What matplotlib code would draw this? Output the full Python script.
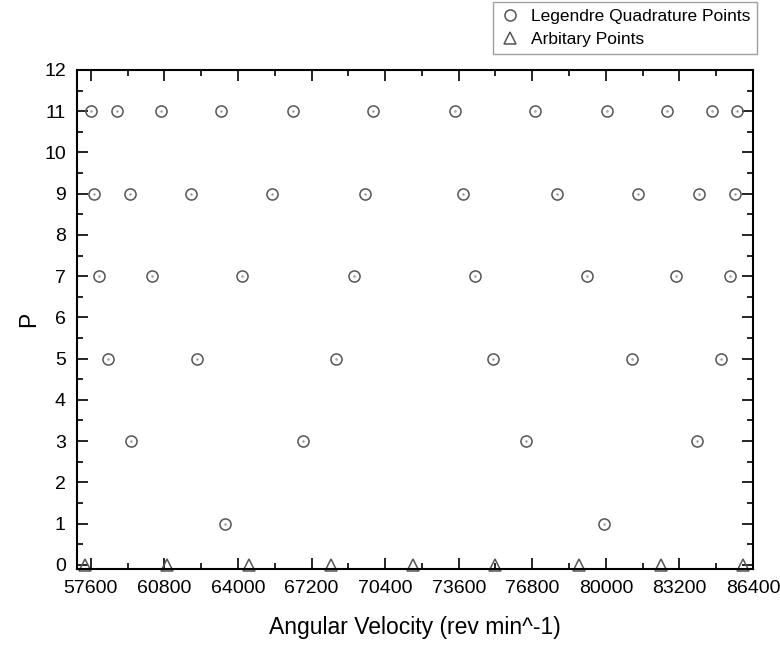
import matplotlib.pyplot as plt
from matplotlib.ticker import MultipleLocator

plt.rcParams['font.family'] = ['Liberation Sans', 'DejaVu Sans']

# --- Data ---
p_levels = [1, 3, 5, 7, 9, 11]
legendre_x = {
    1: [63420, 79930],
    3: [59360, 66810, 76530, 83980],
    5: [58340, 62220, 68260, 75080, 81130, 85010],
    7: [57940, 60280, 64160, 69050, 74290, 79190, 83060, 85400],
    9: [57740, 59300, 61960, 65470, 69540, 73800, 77870, 81390, 84040, 85600],
    11: [57630, 58740, 60660, 63270, 66410, 69880, 73460, 76930, 80070,
         82680, 84600, 85710],
}
arbitrary_x = [57340, 60900, 64470, 68040, 71600, 75200, 78820, 82420, 85950]
arbitrary_p = [0] * len(arbitrary_x)

x_ticks = [57600, 60800, 64000, 67200, 70400, 73600, 76800, 80000, 83200, 86400]

# --- Plot ---
fig = plt.figure(figsize=(7.8, 6.48), dpi=100)
ax = fig.add_axes([0.0987, 0.122, 0.8667, 0.770])

mcol = '#555555'
xs, ys = [], []
for p in p_levels:
    xs += legendre_x[p]
    ys += [p] * len(legendre_x[p])

ax.plot(xs, ys, linestyle='none', marker='o', markersize=8,
        markerfacecolor='none', markeredgecolor=mcol, markeredgewidth=1.1,
        label='Legendre Quadrature Points', clip_on=False)
# tiny centre dots as in the original
ax.plot(xs, ys, linestyle='none', marker='.', markersize=1.5,
        color='#999999', clip_on=False)
ax.plot(arbitrary_x, arbitrary_p, linestyle='none', marker='^', markersize=9,
        markerfacecolor='none', markeredgecolor=mcol, markeredgewidth=1.1,
        label='Arbitary Points', clip_on=False)

ax.set_xlim(57000, 86400)
ax.set_ylim(-0.1, 12)
ax.set_xticks(x_ticks)
ax.xaxis.set_minor_locator(MultipleLocator(1600))
ax.yaxis.set_major_locator(MultipleLocator(1))
ax.yaxis.set_minor_locator(MultipleLocator(0.5))

ax.tick_params(which='both', direction='in', top=True, right=True,
               labelsize=14, width=1.2, pad=8)
ax.tick_params(which='major', length=8)
ax.tick_params(which='minor', length=4.5)
for s in ax.spines.values():
    s.set_linewidth(1.5)

ax.set_xlabel('Angular Velocity (rev min^-1)', fontsize=16.5, labelpad=14)
ax.set_ylabel('P', fontsize=16.5, labelpad=3)

leg = fig.legend(loc='upper right', bbox_to_anchor=(0.971, 0.997),
                 fontsize=12.5, frameon=True, fancybox=False,
                 borderpad=0.4, handletextpad=0.6, labelspacing=0.45,
                 handlelength=1.2, borderaxespad=0)
leg.get_frame().set_edgecolor('#888888')
leg.get_frame().set_linewidth(1.0)

fig.savefig('out.png', dpi=100)
